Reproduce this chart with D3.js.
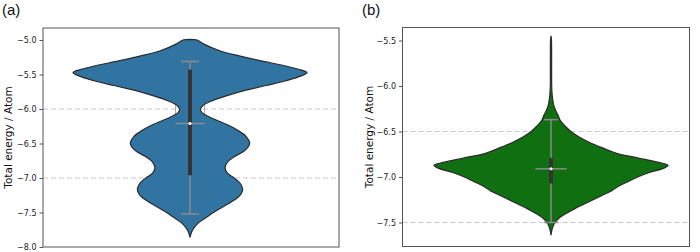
<!DOCTYPE html>
<html>
<head>
<meta charset="utf-8">
<script src="https://cdn.jsdelivr.net/npm/d3@7"></script>
<style>
  body { margin: 0; background: #fff; }
  svg { display: block; }
</style>
</head>
<body>
<svg id="chart" width="700" height="252"></svg>
<script>
// panel (a): energy per atom vs relative half width of the violin
const energyA = [-4.99, -5.0, -5.03, -5.06, -5.1, -5.16, -5.23, -5.3, -5.37, -5.42, -5.47, -5.52, -5.59, -5.66, -5.73, -5.81, -5.88, -5.95, -6.0, -6.05, -6.12, -6.22, -6.3, -6.4, -6.5, -6.6, -6.69, -6.77, -6.85, -6.93, -6.99, -7.08, -7.16, -7.22, -7.28, -7.35, -7.42, -7.5, -7.57, -7.64, -7.71, -7.78, -7.86];
const widthA  = [0, 0.06, 0.09, 0.12, 0.17, 0.26, 0.42, 0.6, 0.8, 0.92, 1.0, 0.95, 0.82, 0.65, 0.47, 0.31, 0.19, 0.11, 0.09, 0.1, 0.17, 0.31, 0.4, 0.48, 0.51, 0.47, 0.38, 0.32, 0.3, 0.32, 0.37, 0.43, 0.45, 0.44, 0.41, 0.35, 0.28, 0.2, 0.14, 0.08, 0.04, 0.015, 0];
// whisker low, q1, median, q3, whisker high
const boxA = [-7.52, -6.96, -6.21, -5.43, -5.31];
const ticksA = [-5.0, -5.5, -6.0, -6.5, -7.0, -7.5, -8.0];
const gridA = [-6.0, -7.0];

// panel (b)
const energyB = [-5.45, -5.5, -6.0, -6.1, -6.16, -6.22, -6.27, -6.32, -6.38, -6.44, -6.5, -6.56, -6.62, -6.68, -6.74, -6.79, -6.84, -6.87, -6.9, -6.95, -7.0, -7.05, -7.1, -7.15, -7.2, -7.25, -7.3, -7.35, -7.4, -7.45, -7.5, -7.55, -7.6, -7.64];
const widthB  = [0, 0.004, 0.006, 0.01, 0.016, 0.025, 0.04, 0.06, 0.08, 0.12, 0.17, 0.24, 0.33, 0.44, 0.56, 0.74, 0.92, 1.0, 0.97, 0.84, 0.74, 0.66, 0.58, 0.52, 0.44, 0.36, 0.28, 0.2, 0.13, 0.07, 0.035, 0.015, 0.005, 0];
const boxB = [-7.5, -7.07, -6.91, -6.79, -6.37];
const ticksB = [-5.5, -6.0, -6.5, -7.0, -7.5];
const gridB = [-6.5, -7.5];

const svg = d3.select('#chart');
const fmt = d3.format('.1f');

function drawPanel(opt) {
    const g = svg.append('g');
    const y = d3.scaleLinear().domain(opt.domain).range(opt.yRange);
    const x = d3.scaleLinear().domain([-1, 1]).range([opt.cx - 117, opt.cx + 117]);
    const pts = opt.energy.map((e, i) => ({e: e, w: opt.width[i]}));

    // dashed grid lines behind the violin
    g.selectAll('.grid').data(opt.grid).enter().append('line')
        .attr('x1', opt.left).attr('x2', opt.right)
        .attr('y1', d => y(d)).attr('y2', d => y(d))
        .style('stroke', '#c8c8c8').style('stroke-width', 1).style('stroke-dasharray', '5,3');

    const [wLo, q1, med, q3, wHi] = opt.box;

    // box edge, mostly hidden by the violin body
    g.append('rect')
        .attr('x', opt.cx - opt.medHalf).attr('width', opt.medHalf * 2)
        .attr('y', y(q3)).attr('height', y(med) - y(q3))
        .style('fill', 'none').style('stroke', '#aaa').style('stroke-width', 1);

    const area = d3.area()
        .y(d => y(d.e)).x0(d => x(-d.w)).x1(d => x(d.w))
        .curve(d3.curveCatmullRom.alpha(0.5));

    g.append('path').datum(pts).attr('d', area)
        .style('fill', opt.color).style('stroke', '#2b2b2b').style('stroke-width', 1.2);

    // whisker and caps
    g.append('line').attr('x1', opt.cx).attr('x2', opt.cx).attr('y1', y(wHi)).attr('y2', y(wLo))
        .style('stroke', '#8a8a8a').style('stroke-width', 1.5);
    g.selectAll('.cap').data([wLo, wHi]).enter().append('line')
        .attr('x1', opt.cx - opt.capHalf).attr('x2', opt.cx + opt.capHalf)
        .attr('y1', d => y(d)).attr('y2', d => y(d))
        .style('stroke', '#8a8a8a').style('stroke-width', 1.5);

    // interquartile bar
    g.append('line').attr('x1', opt.cx).attr('x2', opt.cx).attr('y1', y(q3)).attr('y2', y(q1))
        .style('stroke', '#333').style('stroke-width', 4);

    // median
    g.append('line').attr('x1', opt.cx - opt.medHalf).attr('x2', opt.cx + opt.medHalf)
        .attr('y1', y(med)).attr('y2', y(med))
        .style('stroke', '#8a8a8a').style('stroke-width', 1.5);
    g.append('circle').attr('cx', opt.cx).attr('cy', y(med)).attr('r', 1.5).style('fill', '#fff');

    // frame
    g.append('rect')
        .attr('x', opt.left).attr('y', opt.top)
        .attr('width', opt.right - opt.left).attr('height', opt.bottom - opt.top)
        .style('fill', 'none').style('stroke', '#555').style('stroke-width', 1);

    const axis = d3.axisLeft(y).tickValues(opt.ticks).tickSize(3.5).tickPadding(3).tickFormat(fmt);
    const ax = g.append('g').attr('transform', `translate(${opt.left},0)`).call(axis);
    ax.select('.domain').remove();
    ax.selectAll('line').style('stroke', '#555');
    ax.selectAll('text').style('font-family', 'DejaVu Sans').style('font-size', '8px').style('fill', '#1a1a1a');

    g.append('text')
        .attr('transform', `translate(${opt.labelX},${(opt.top + opt.bottom) / 2}) rotate(-90)`)
        .attr('text-anchor', 'middle').attr('dominant-baseline', 'central')
        .style('font-family', 'DejaVu Sans').style('font-size', '10.5px').style('fill', '#111')
        .text('Total energy / Atom');

    g.append('text').attr('x', opt.tagX).attr('y', 15)
        .style('font-family', 'Liberation Sans').style('font-size', '15px').style('fill', '#111')
        .text(opt.tag);
}

drawPanel({
    energy: energyA, width: widthA, box: boxA, ticks: ticksA, grid: gridA,
    domain: [-8, -5], yRange: [247, 40],
    left: 43, right: 339, top: 28, bottom: 247, cx: 190,
    color: '#3274a1', capHalf: 9, medHalf: 14.5,
    labelX: 8, tagX: 2, tag: '(a)'
});

drawPanel({
    energy: energyB, width: widthB, box: boxB, ticks: ticksB, grid: gridB,
    domain: [-7.5, -5.5], yRange: [222.5, 40.5],
    left: 402.5, right: 689.5, top: 27.5, bottom: 246.5, cx: 551,
    color: '#106f10', capHalf: 7, medHalf: 15.5,
    labelX: 369, tagX: 362, tag: '(b)'
});
</script>
</body>
</html>
